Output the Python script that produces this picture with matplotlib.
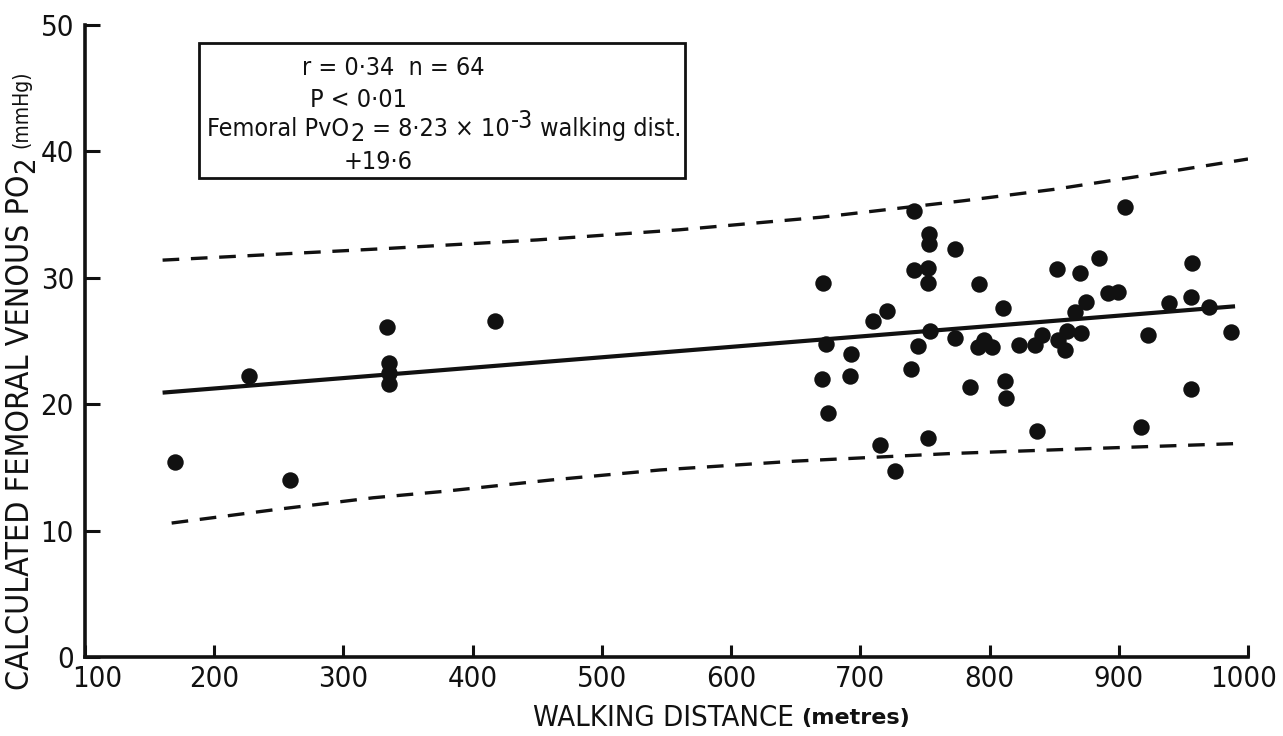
import os
import matplotlib
matplotlib.use("Agg")
import matplotlib.pyplot as plt
from matplotlib import font_manager
from matplotlib.font_manager import FontProperties
from matplotlib.patches import Rectangle
import matplotlib.transforms as mtransforms

# ---- data -------------------------------------------------------------
walk_dist = [169.6, 226.9, 258.6, 333.7, 335.2, 335.2, 335.2, 417.2,
             671.0, 673.3, 692.7, 670.2, 691.9, 674.9, 709.7, 720.5,
             741.4, 753.0, 753.0, 741.4, 752.2, 752.2, 753.8, 744.5,
             739.1, 715.1, 726.7, 752.2, 773.1, 773.1,
             904.6, 791.7, 810.3, 790.9, 795.6, 801.7, 822.6, 835.0,
             840.4, 852.8, 859.8, 858.2, 870.6, 866.0, 874.5, 852.0,
             869.8, 884.5, 891.5, 899.2, 922.4, 938.7, 955.7, 956.5,
             969.6, 986.7, 784.7, 811.8, 812.6, 836.6, 917.0, 955.7]
pvo2 = [15.4, 22.2, 14.0, 26.1, 23.3, 22.5, 21.6, 26.6,
        29.6, 24.8, 24.0, 22.0, 22.2, 19.3, 26.6, 27.4,
        35.3, 33.5, 32.7, 30.6, 30.8, 29.6, 25.8, 24.6,
        22.8, 16.8, 14.7, 17.3, 32.3, 25.2,
        35.6, 29.5, 27.6, 24.5, 25.1, 24.5, 24.7, 24.7,
        25.5, 25.1, 25.8, 24.3, 25.6, 27.3, 28.1, 30.7,
        30.4, 31.6, 28.8, 28.9, 25.5, 28.0, 28.5, 31.2,
        27.7, 25.7, 21.4, 21.8, 20.5, 17.9, 18.2, 21.2]

# regression: Femoral PvO2 = 8.23e-3 * walking distance + 19.6
slope = 8.23e-3
intercept = 19.6
fit_range = [160, 990]

# confidence limits
upper_x = [160, 330, 450, 560, 670, 780, 850, 920, 1000]
upper_y = [31.4, 32.3, 33.0, 33.8, 34.8, 36.1, 37.0, 38.1, 39.4]
lower_x = [167, 250, 323, 377, 460, 545, 650, 770, 880, 995]
lower_y = [10.6, 11.7, 12.6, 13.1, 14.0, 14.8, 15.5, 16.1, 16.5, 16.9]

x_ticks = [100, 200, 300, 400, 500, 600, 700, 800, 900, 1000]
y_ticks = [0, 10, 20, 30, 40, 50]


# ---- fonts: prefer a narrow lettering face ----------------------------
def find_narrow():
    prefs = ["DejaVuSansCondensed.ttf", "LiberationSansNarrow-Regular.ttf",
             "RobotoCondensed-Regular.ttf", "OpenSans_Condensed-Regular.ttf"]
    files = {os.path.basename(f.fname): f.fname
             for f in font_manager.fontManager.ttflist}
    for p in prefs:
        if p in files:
            return files[p]
    for name, path in files.items():
        low = name.lower()
        if ("condensed" in low or "narrow" in low) and not any(
                k in low for k in ("bold", "italic", "oblique", "light",
                                   "thin", "black", "medium", "semi", "extra")):
            return path
    return None


narrow_path = find_narrow()


def fp(size, **kw):
    if narrow_path:
        return FontProperties(fname=narrow_path, size=size, **kw)
    return FontProperties(family="DejaVu Sans", size=size, **kw)


ink = "#111111"

fig = plt.figure(figsize=(12.83, 7.36), dpi=100)
fig.patch.set_facecolor("white")
ax = fig.add_axes([0.0663, 0.1073, 0.9064, 0.8587])

ax.scatter(walk_dist, pvo2, s=140, color=ink, zorder=3, linewidths=0)

fx = fit_range
fy = [slope * v + intercept for v in fx]
ax.plot(fx, fy, color=ink, lw=3.0, solid_capstyle="butt", zorder=2)

ax.plot(upper_x, upper_y, color=ink, lw=2.4, dashes=(5, 3.5), zorder=2)
ax.plot(lower_x, lower_y, color=ink, lw=2.4, dashes=(5, 3.5), zorder=2)

ax.set_xlim(100, 1000)
ax.set_ylim(0, 50)
ax.set_xticks(x_ticks)
ax.set_yticks(y_ticks)
ax.set_xticklabels([str(v) for v in x_ticks])
ax.set_yticklabels([str(v) for v in y_ticks])

for side in ("top", "right"):
    ax.spines[side].set_visible(False)
for side in ("left", "bottom"):
    ax.spines[side].set_linewidth(2.6)
    ax.spines[side].set_color(ink)

ax.tick_params(axis="x", direction="in", length=9, width=2.2, colors=ink, pad=6)
ax.tick_params(axis="y", direction="in", length=11, width=2.2, colors=ink, pad=8)
tick_font = fp(21)
for lab in ax.get_xticklabels() + ax.get_yticklabels():
    lab.set_fontproperties(tick_font)
# the first x label sits clear of the corner, the last one clear of the edge
xlabels = ax.get_xticklabels()
xlabels[0].set_transform(xlabels[0].get_transform() +
                         mtransforms.ScaledTranslation(12 / 100, 0, fig.dpi_scale_trans))
xlabels[-1].set_transform(xlabels[-1].get_transform() +
                          mtransforms.ScaledTranslation(-4 / 100, 0, fig.dpi_scale_trans))
ax.set_facecolor("white")

# statistics box
ax.add_patch(Rectangle((0.098, 0.758), 0.418, 0.2135, transform=ax.transAxes,
                       fill=False, lw=2.0, edgecolor=ink, zorder=4))
box_font = fp(18)


def pieced_line(x, y, parts):
    """Draw a line of (text, shift) pieces; each shift is in points relative to the previous piece."""
    t = ax.text(x, y, parts[0][0], transform=ax.transAxes, fontproperties=box_font,
                color=ink, va="center", ha="left")
    for txt, dy in parts[1:]:
        t = ax.annotate(txt, xy=(1, 0.5), xycoords=t, xytext=(0.5, dy),
                        textcoords="offset points", fontproperties=box_font,
                        color=ink, va="center", ha="left")
    return t


ax.text(0.1866, 0.932, "r = 0·34  n = 64", transform=ax.transAxes,
        fontproperties=box_font, color=ink, va="center", ha="left")
ax.text(0.193, 0.881, "P < 0·01", transform=ax.transAxes,
        fontproperties=box_font, color=ink, va="center", ha="left")
pieced_line(0.105, 0.836, [("Femoral PvO", 0), ("2", -3.5), (" = 8·23 × 10", 3.5),
                           ("-3", 5.5), (" walking dist.", -5.5)])
ax.text(0.222, 0.784, "+19·6", transform=ax.transAxes,
        fontproperties=box_font, color=ink, va="center", ha="left")

# axis titles
xl = fig.text(533 / 1283, 1 - 718 / 736, "WALKING DISTANCE", fontproperties=fp(21),
              color=ink, va="center", ha="left")
ax.annotate("(metres)", xy=(1, 0.5), xycoords=xl, xytext=(5, 0),
            textcoords="offset points", fontsize=16, fontweight="bold",
            family="DejaVu Sans", color=ink, va="center", ha="left")

yl = fig.text(21 / 1283, 1 - 690 / 736, "CALCULATED FEMORAL VENOUS PO",
              fontproperties=fp(23), rotation=90, color=ink,
              va="bottom", ha="center")
y2 = ax.annotate("2", xy=(0.5, 1), xycoords=yl, xytext=(4, 1),
                 textcoords="offset points", fontproperties=fp(21),
                 rotation=90, color=ink, va="bottom", ha="center")
ax.annotate("(mmHg)", xy=(0.5, 1), xycoords=y2, xytext=(-4, 6),
            textcoords="offset points", fontproperties=fp(15),
            rotation=90, color=ink, va="bottom", ha="center")

fig.savefig("out.png", dpi=100, facecolor="white")
